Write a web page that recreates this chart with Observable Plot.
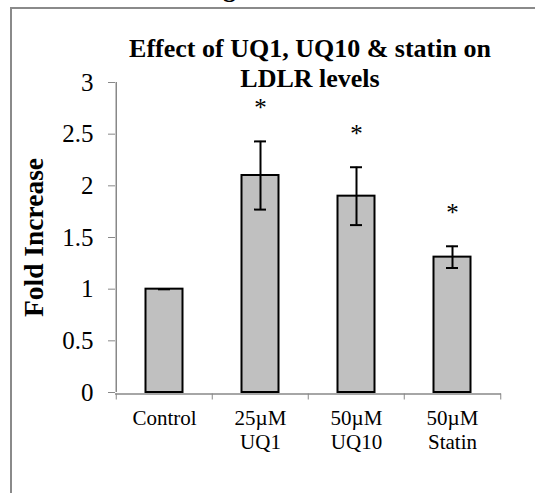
<!DOCTYPE html>
<html>
<head>
<meta charset="utf-8">
<script src="https://cdn.jsdelivr.net/npm/d3@7"></script>
<script src="https://cdn.jsdelivr.net/npm/@observablehq/plot@0.6"></script>
<style>
  body { margin: 0; background: #fff; }
  #wrap { position: relative; width: 535px; height: 493px; overflow: hidden; background: #fff; font-family: "Liberation Serif", "Times New Roman", serif; }
  #frame { position: absolute; left: 10px; top: 7px; right: -20px; bottom: -20px; border-left: 2px solid #8a8a8a; border-top: 2px solid #8a8a8a; }
  #cut { position: absolute; left: 223px; top: -26px; font-size: 26px; font-weight: bold; line-height: 30px; }
  #title { position: absolute; left: 0; top: 34px; width: 620px; text-align: center; font-size: 26px; font-weight: bold; line-height: 30px; }
  #chart { position: absolute; left: 0; top: 0; }
</style>
</head>
<body>
<div id="wrap">
  <div id="frame"></div>
  <div id="cut">g</div>
  <div id="chart"></div>
  <div id="title">Effect of UQ1, UQ10 &amp; statin on<br>LDLR levels</div>
</div>
<script>
const categories = ["Control", "25µM\nUQ1", "50µM\nUQ10", "50µM\nStatin"];
const foldIncrease = [1.0, 2.1, 1.9, 1.31];
const errors = [0, 0.33, 0.28, 0.105];
const significant = [false, true, true, true];
const yTicks = [0, 0.5, 1, 1.5, 2, 2.5, 3];
const yTickLabels = ["0", "0.5", "1", "1.5", "2", "2.5", "3"];
const yLabel = "Fold Increase";

const data = categories.map((cat, i) => ({cat, v: foldIncrease[i], e: errors[i], sig: significant[i]}));

const W = 535, H = 493, mL = 115, mR = 34, mT = 82, mB = 101;
const step = (W - mL - mR) / categories.length;
const axisGray = "#888";

const chart = Plot.plot({
  width: W, height: H,
  marginLeft: mL, marginRight: mR, marginTop: mT, marginBottom: mB,
  style: {fontFamily: "'Liberation Serif', 'Times New Roman', serif", background: "transparent", overflow: "visible"},
  x: {domain: categories, padding: 0},
  y: {domain: [0, 3]},
  marks: [
    Plot.barY(data, {x: "cat", y: "v", fill: "#c0c0c0", stroke: "#000", strokeWidth: 2, insetLeft: 29.5, insetRight: 29.5}),
    Plot.ruleY([0], {stroke: axisGray, strokeWidth: 1.5, dy: 1.5}),
    Plot.ruleX([categories[0]], {x: d => d, y1: 0, y2: 3, dx: -step / 2, stroke: axisGray, strokeWidth: 1.5}),
    Plot.axisY({ticks: yTicks, tickFormat: d => yTickLabels[yTicks.indexOf(d)], tickSize: 7, tickPadding: 15, fontSize: 25, stroke: axisGray, fill: "#000", label: null}),
    Plot.axisX({ticks: categories, tickSize: 6, text: null, dx: -step / 2, dy: 1.5, stroke: axisGray, label: null}),
    Plot.axisX({ticks: [categories[categories.length - 1]], tickSize: 6, text: null, dx: step / 2, dy: 1.5, stroke: axisGray, label: null}),
    Plot.axisX({tickSize: 0, tickPadding: 15, fontSize: 21, lineHeight: 1.15, fill: "#000", label: null}),
    Plot.ruleX(data, {x: "cat", y1: d => d.v - d.e, y2: d => d.v + d.e, stroke: "#000", strokeWidth: 2}),
    Plot.tickY(data, {x: "cat", y: d => d.v + d.e, stroke: "#000", strokeWidth: 2, insetLeft: 42, insetRight: 42}),
    Plot.tickY(data, {x: "cat", y: d => d.v - d.e, stroke: "#000", strokeWidth: 2, insetLeft: 42, insetRight: 42}),
    Plot.text(data.filter(d => d.sig), {x: "cat", y: d => d.v + d.e, text: () => "*", dy: -33, fontSize: 25, fill: "#000"}),
    Plot.text([yLabel], {text: d => d, frameAnchor: "left", textAnchor: "middle", lineAnchor: "middle", rotate: -90, dx: -81, fontSize: 27.5, fontWeight: "bold", fill: "#000"})
  ]
});
document.getElementById("chart").appendChild(chart);
</script>
</body>
</html>
